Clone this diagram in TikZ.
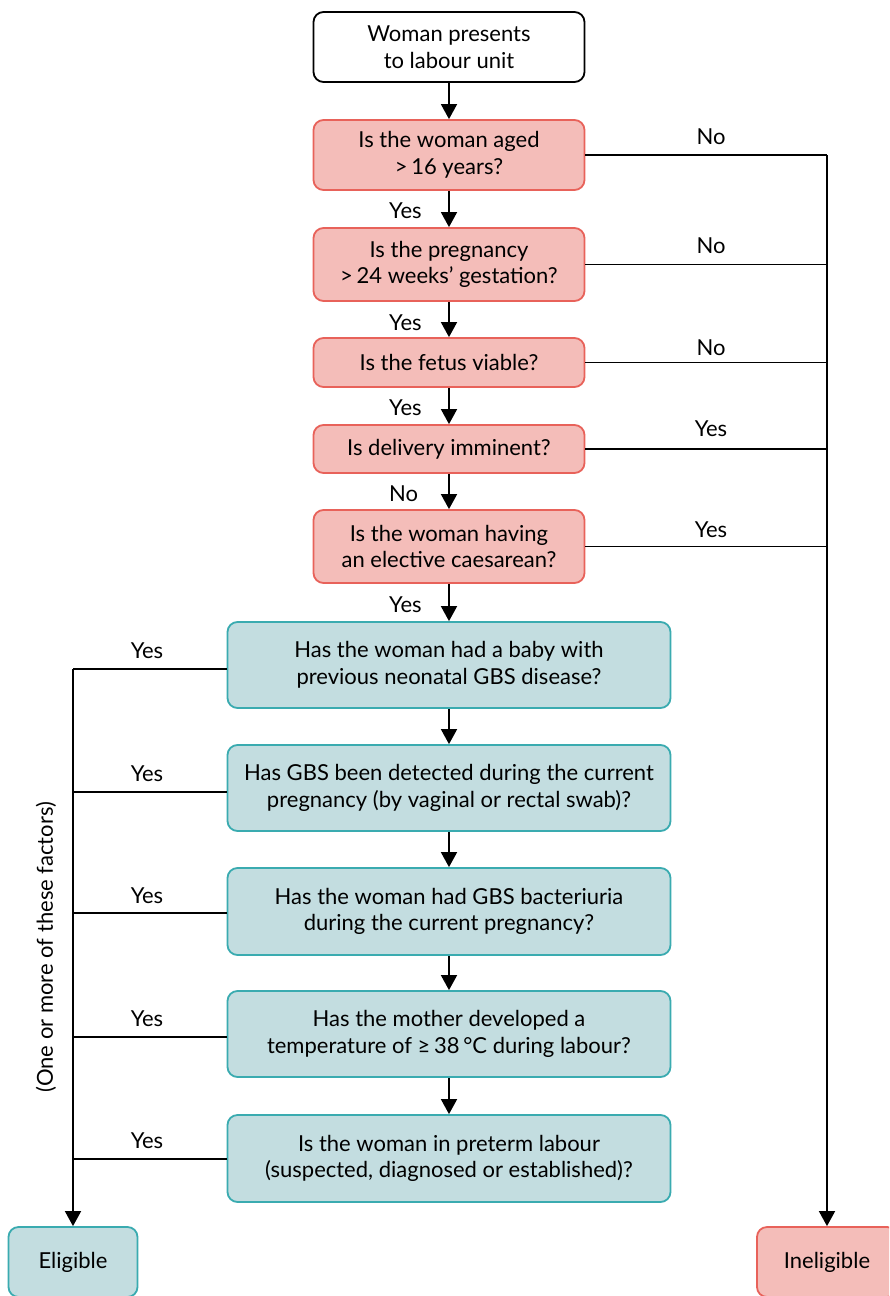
\documentclass[tikz,border=0pt]{standalone}
\usepackage{fontspec}
\setmainfont{Lato}
\usetikzlibrary{arrows.meta,calc}
\definecolor{redfill}{HTML}{F4BDB9}
\definecolor{reddraw}{HTML}{E8625A}
\definecolor{tealfill}{HTML}{C3DDE0}
\definecolor{tealdraw}{HTML}{3AABB0}
\begin{document}
\begin{tikzpicture}[x=1pt,y=-1pt,
  every node/.style={font=\fontsize{22}{26.7}\selectfont, inner sep=0pt},
  box/.style={rounded corners=10pt, line width=1.8pt, align=center},
  startbox/.style={box, draw=black, fill=white, minimum width=271pt},
  redbox/.style={box, draw=reddraw, fill=redfill, minimum width=271pt},
  tealbox/.style={box, draw=tealdraw, fill=tealfill, minimum width=443pt},
  endbox/.style={box, minimum height=70pt},
  conn/.style={line width=1.7pt, draw=black},
  arr/.style={conn, -{Triangle[width=16pt,length=15pt]}},
  lbl/.style={font=\fontsize{22}{26}\selectfont}
]
\useasboundingbox (0,0) rectangle (889,1296);
\clip (0,0) rectangle (889,1296);

\node[startbox, minimum height=70pt] (s) at (449,47) {Woman presents\\to labour unit};
\node[redbox, minimum height=70pt] (r1) at (449,155) {Is the woman aged\\>\,16 years?};
\node[redbox, minimum height=73pt] (r2) at (449,264.5) {Is the pregnancy\\>\,24 weeks’ gestation?};
\node[redbox, minimum height=49pt] (r3) at (449,362.5) {Is the fetus viable?};
\node[redbox, minimum height=48pt] (r4) at (449,449) {Is delivery imminent?};
\node[redbox, minimum height=73pt] (r5) at (449,546.5) {Is the woman having\\an elective caesarean?};

\node[tealbox, minimum height=86pt] (t1) at (449,665) {Has the woman had a baby with\\previous neonatal GBS disease?};
\node[tealbox, minimum height=86pt] (t2) at (449,788) {Has GBS been detected during the current\\pregnancy (by vaginal or rectal swab)?};
\node[tealbox, minimum height=87pt] (t3) at (449,911.5) {Has the woman had GBS bacteriuria\\during the current pregnancy?};
\node[tealbox, minimum height=86pt] (t4) at (449,1034) {Has the mother developed a\\temperature of ≥\,38\,°C during labour?};
\node[tealbox, minimum height=87pt] (t5) at (449,1158.5) {Is the woman in preterm labour\\(suspected, diagnosed or established)?};

\node[endbox, draw=tealdraw, fill=tealfill, minimum width=129pt] (el) at (73,1262) {Eligible};
\node[endbox, draw=reddraw, fill=redfill, minimum width=140pt] (in) at (827,1262) {Ineligible};

\coordinate (lc) at (73,665);
\coordinate (rc) at (827,155);

% main chain
\draw[arr] (s) -- (r1);
\draw[arr] (r1) -- (r2);
\draw[arr] (r2) -- (r3);
\draw[arr] (r3) -- (r4);
\draw[arr] (r4) -- (r5);
\draw[arr] (r5) -- (t1);
\draw[arr] (t1) -- (t2);
\draw[arr] (t2) -- (t3);
\draw[arr] (t3) -- (t4);
\draw[arr] (t4) -- (t5);

% middle labels
\node[lbl, anchor=west] (m1) at (389,211) {Yes};
\node[lbl, anchor=west] (m2) at (389,323) {Yes};
\node[lbl, anchor=west] (m3) at (389,408) {Yes};
\node[lbl, anchor=west] (m4) at (389,494) {No};
\node[lbl, anchor=west] (m5) at (389,605) {Yes};

% right branches
\draw[conn] (r1.east) -- (r1.east -| rc);
\draw[conn] (r2.east) -- (r2.east -| rc);
\draw[conn] (r3.east) -- (r3.east -| rc);
\draw[conn] (r4.east) -- (r4.east -| rc);
\draw[conn] (r5.east) -- (r5.east -| rc);
\draw[arr] (r1.east -| rc) -- (in.north);
\node[lbl] (n1) at (711,137) {No};
\node[lbl] (n2) at (711,246) {No};
\node[lbl] (n3) at (711,348) {No};
\node[lbl] (n4) at (711,429) {Yes};
\node[lbl] (n5) at (711,530) {Yes};

% left branches
\coordinate (w1) at ([yshift=-4pt]t1.west);
\coordinate (w2) at ([yshift=-4pt]t2.west);
\coordinate (w3) at ([yshift=-1.5pt]t3.west);
\coordinate (w4) at ([yshift=-3pt]t4.west);
\coordinate (w5) at ([yshift=-0.5pt]t5.west);
\draw[conn] (w1) -- (w1 -| lc);
\draw[conn] (w2) -- (w2 -| lc);
\draw[conn] (w3) -- (w3 -| lc);
\draw[conn] (w4) -- (w4 -| lc);
\draw[conn] (w5) -- (w5 -| lc);
\draw[arr] (w1 -| lc) -- (el.north);
\node[lbl] (y1) at (147,651) {Yes};
\node[lbl] (y2) at (147,774) {Yes};
\node[lbl] (y3) at (147,896) {Yes};
\node[lbl] (y4) at (147,1019) {Yes};
\node[lbl] (y5) at (147,1141) {Yes};

\node[lbl, rotate=90] (factors) at (46,947) {(One or more of these factors)};
\end{tikzpicture}
\end{document}
